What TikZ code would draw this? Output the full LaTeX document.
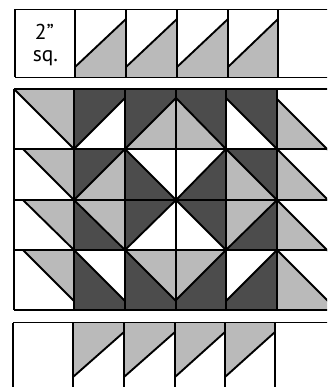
\documentclass[tikz,border=0pt]{standalone}
\usepackage{fontspec}
\setsansfont{PT Sans}
\definecolor{lt}{RGB}{186,186,186}
\definecolor{dk}{RGB}{76,76,76}
\tikzset{
  edge/.style={draw=black, line width=1.9pt},
  lab/.style={font=\sffamily\fontsize{21.5}{21.5}\selectfont, anchor=base, inner sep=0pt}
}
\begin{document}
\begin{tikzpicture}[x=1pt,y=-1pt, line join=miter]
\useasboundingbox (0,0) rectangle (327,387);
\clip (0,0) rectangle (327,387);
\fill[white] (0,0) rectangle (327,387);

% ---------- top strip ----------
\foreach \a/\b in {75/126,126/177,177/228,228/278}{
  \fill[lt] (\a,67) -- (\b,19) -- (\b,77.5) -- (\a,77.5) -- cycle;
  \draw[edge] (\a,67) -- (\b,19);
}
\draw[edge] (15,9.5) -- (330,9.5);
\draw[edge] (15,77.5) -- (330,77.5);
\foreach \x in {15,75,126,177,228,278}{\draw[edge] (\x,9.5) -- (\x,77.5);}
\node[lab] (two) at (44.5,40) {2\char"22};
\node[lab] (sq) at (45.5,62) {sq.};

% ---------- main block ----------
\fill[dk] (74,89) rectangle (277,310);
% row 0
\fill[lt] (14,89) -- (74,89) -- (74,149) -- cycle;
\fill[white] (74,149) -- (125,98) -- (125,149) -- cycle;
\fill[lt] (125,149) -- (176,98) -- (176,149) -- cycle;
\fill[lt] (176,98) -- (176,149) -- (226,149) -- cycle;
\fill[white] (226,98) -- (226,149) -- (277,149) -- cycle;
\fill[lt] (277,99) -- (277,149) -- (327,149) -- cycle;
% row 1
\fill[lt] (23,149) -- (74,149) -- (74,200) -- cycle;
\fill[lt] (125,149) -- (125,200) -- (74,200) -- cycle;
\fill[white] (125,149) -- (176,149) -- (176,200) -- cycle;
\fill[white] (176,149) -- (226,149) -- (176,200) -- cycle;
\fill[lt] (226,149) -- (277,200) -- (226,200) -- cycle;
\fill[lt] (277,149) -- (277,200) -- (328,200) -- cycle;
% row 2
\fill[lt] (23,200) -- (74,200) -- (74,250) -- cycle;
\fill[lt] (74,200) -- (125,200) -- (125,250) -- cycle;
\fill[white] (176,200) -- (176,250) -- (125,250) -- cycle;
\fill[white] (176,200) -- (226,250) -- (176,250) -- cycle;
\fill[lt] (226,200) -- (277,200) -- (226,250) -- cycle;
\fill[lt] (277,200) -- (277,250) -- (327,250) -- cycle;
% row 3
\fill[lt] (23,250) -- (74,250) -- (74,301) -- cycle;
\fill[white] (74,250) -- (125,250) -- (125,301) -- cycle;
\fill[lt] (125,250) -- (176,250) -- (176,301) -- cycle;
\fill[lt] (176,250) -- (226,250) -- (176,300) -- cycle;
\fill[white] (226,250) -- (277,250) -- (226,301) -- cycle;
\fill[lt] (277,250) -- (277,310) -- (337,310) -- cycle;

% diagonals
\draw[edge] (14,89) -- (74,149);
\draw[edge] (74,149) -- (125,98);
\draw[edge] (125,149) -- (176,98);
\draw[edge] (176,98) -- (226,149);
\draw[edge] (226,98) -- (277,149);
\draw[edge] (277,99) -- (328,150);

\draw[edge] (23,149) -- (74,200);
\draw[edge] (125,149) -- (74,200);
\draw[edge] (125,149) -- (176,200);
\draw[edge] (226,149) -- (176,200);
\draw[edge] (226,149) -- (277,200);
\draw[edge] (277,149) -- (328,200);

\draw[edge] (23,200) -- (74,250);
\draw[edge] (74,200) -- (125,250);
\draw[edge] (176,200) -- (125,250);
\draw[edge] (176,200) -- (226,250);
\draw[edge] (226,250) -- (277,200);
\draw[edge] (277,200) -- (328,251);

\draw[edge] (23,250) -- (74,301);
\draw[edge] (74,250) -- (125,301);
\draw[edge] (125,250) -- (176,301);
\draw[edge] (226,250) -- (176,300);
\draw[edge] (277,250) -- (226,301);
\draw[edge] (277,250) -- (337,310);

% grid
\foreach \y in {89,149,200,250,310}{\draw[edge] (14,\y) -- (330,\y);}
\foreach \x in {14,74,125,176,226,277}{\draw[edge] (\x,89) -- (\x,310);}

% ---------- bottom strip ----------
\foreach \a/\b in {73/124,124/175,175/225,225/275}{
  \fill[lt] (\a,322.5) -- (\b,322.5) -- (\b,332) -- (\a,377) -- cycle;
  \draw[edge] (\a,377) -- (\b,332);
}
\draw[edge] (13,322.5) -- (330,322.5);
\foreach \x in {13,73,124,175,225,275}{\draw[edge] (\x,322.5) -- (\x,390);}
\end{tikzpicture}
\end{document}
